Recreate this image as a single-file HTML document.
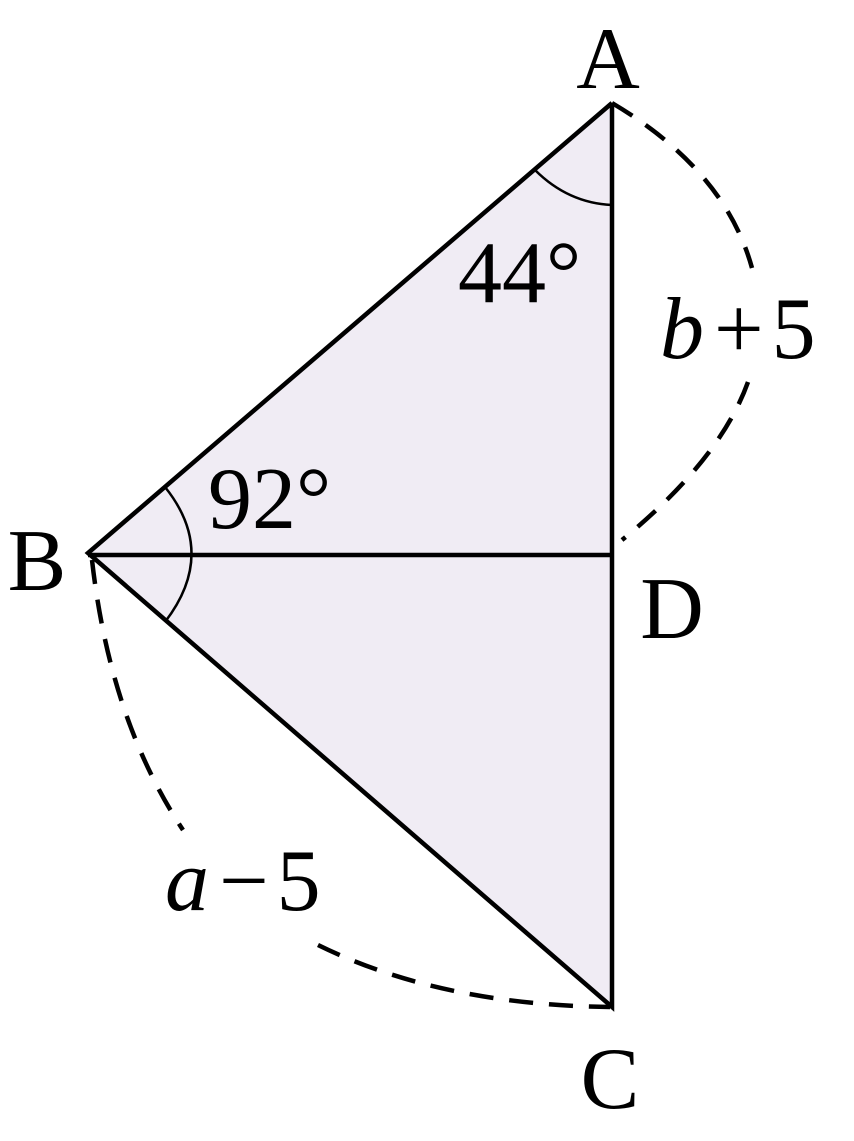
<!DOCTYPE html>
<html><head><style>html,body{margin:0;padding:0;background:#fff}svg{display:block}</style></head>
<body>
<svg width="854" height="1141" viewBox="0 0 854 1141" xmlns="http://www.w3.org/2000/svg">
<polygon points="612,103 88,553 612,1007" fill="#f0ecf4"/>
<g fill="none" stroke="#000" stroke-width="4.5" stroke-linecap="butt">
<polyline points="612,103 88,553 612,1007 612,103"/>
<line x1="88" y1="555" x2="612" y2="555"/>
</g>
<g fill="none" stroke="#000" stroke-width="2.5">
<path d="M535,170 Q568,203 612,205"/>
<path d="M165,487 Q218,553 165,622"/>
</g>
<g fill="none" stroke="#000" stroke-width="4.5" stroke-dasharray="24,16">
<path d="M612,103 Q725,170 752,268"/>
<path d="M748,382 Q720,460 622,540"/>
<path d="M92,560 Q110,720 183,830"/>
<path d="M318,945 Q440,1005 610,1007"/>
</g>
<g font-family="'Liberation Serif',serif" font-size="88" fill="#000">
<text x="608" y="88" text-anchor="middle">A</text>
<text x="37" y="590" text-anchor="middle">B</text>
<text x="610" y="1108" text-anchor="middle">C</text>
<text x="672" y="638" text-anchor="middle">D</text>
<text x="458" y="302">44°</text>
<text x="208" y="528">92°</text>
<text x="660" y="358"><tspan font-style="italic">b</tspan><tspan dx="10">+</tspan><tspan dx="8">5</tspan></text>
<text x="165" y="910"><tspan font-style="italic">a</tspan><tspan dx="10">−</tspan><tspan dx="8">5</tspan></text>
</g>
</svg>
</body></html>
